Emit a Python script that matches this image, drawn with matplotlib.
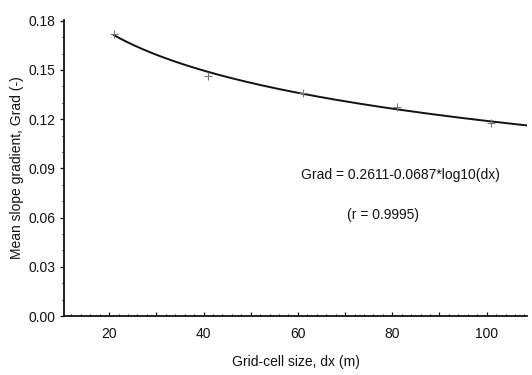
import numpy as np
import matplotlib
matplotlib.use('Agg')
import matplotlib.pyplot as plt
from matplotlib.ticker import MultipleLocator, FuncFormatter

plt.rcParams['font.family'] = ['Liberation Sans', 'DejaVu Sans']

# Values
dx = [21, 41, 61, 81, 101]
grad = [0.1721, 0.1465, 0.1361, 0.1276, 0.1178]

eq_text = "Grad = 0.2611-0.0687*log10(dx)"
r_text = "(r = 0.9995)"

# log fit through the points, drawn as the curve
slope, icpt = np.polyfit(np.log10(dx), grad, 1)
xs = np.linspace(dx[0], 112, 200)
ys = icpt + slope * np.log10(xs)

fig = plt.figure(figsize=(5.32, 3.75), dpi=100)
ax = fig.add_axes([0.120, 0.157, 0.871, 0.790])

ax.plot(xs, ys, color='#111111', lw=1.4, zorder=2)
ax.plot(dx, grad, '+', color='#777777', ms=6, mew=0.8, zorder=3)

ax.set_xlim(10.4, 108.6)
ax.set_ylim(0, 0.1805)

ax.spines['top'].set_visible(False)
ax.spines['right'].set_visible(False)
for s in ('left', 'bottom'):
    ax.spines[s].set_linewidth(1.3)
    ax.spines[s].set_color('#111111')

ax.xaxis.set_major_locator(MultipleLocator(10))
ax.xaxis.set_minor_locator(MultipleLocator(2))
ax.xaxis.set_major_formatter(FuncFormatter(lambda v, p: f"{v:.0f}" if round(v) % 20 == 0 else ""))
ax.yaxis.set_major_locator(MultipleLocator(0.03))
ax.yaxis.set_minor_locator(MultipleLocator(0.01))
ax.yaxis.set_major_formatter(FuncFormatter(lambda v, p: f"{v:.2f}"))

ax.tick_params(axis='x', which='major', direction='in', length=3, width=0.9, labelsize=10, pad=8, colors='#111111')
ax.tick_params(axis='x', which='minor', direction='in', length=1.5, width=0.7)
ax.tick_params(axis='y', which='major', direction='out', length=3, width=0.9, labelsize=10, pad=3, colors='#111111')
ax.tick_params(axis='y', which='minor', direction='out', length=1.5, width=0.7)

ax.set_xlabel("Grid-cell size, dx (m)", fontsize=10, color='#111111', labelpad=10)
ax.set_ylabel("Mean slope gradient, Grad (-)", fontsize=10, color='#111111', labelpad=3)

ax.text(0.726, 0.476, eq_text, transform=ax.transAxes, ha='center', va='center', fontsize=10, color='#111111')
ax.text(0.689, 0.341, r_text, transform=ax.transAxes, ha='center', va='center', fontsize=10, color='#111111')

fig.savefig('out.png', dpi=100)
